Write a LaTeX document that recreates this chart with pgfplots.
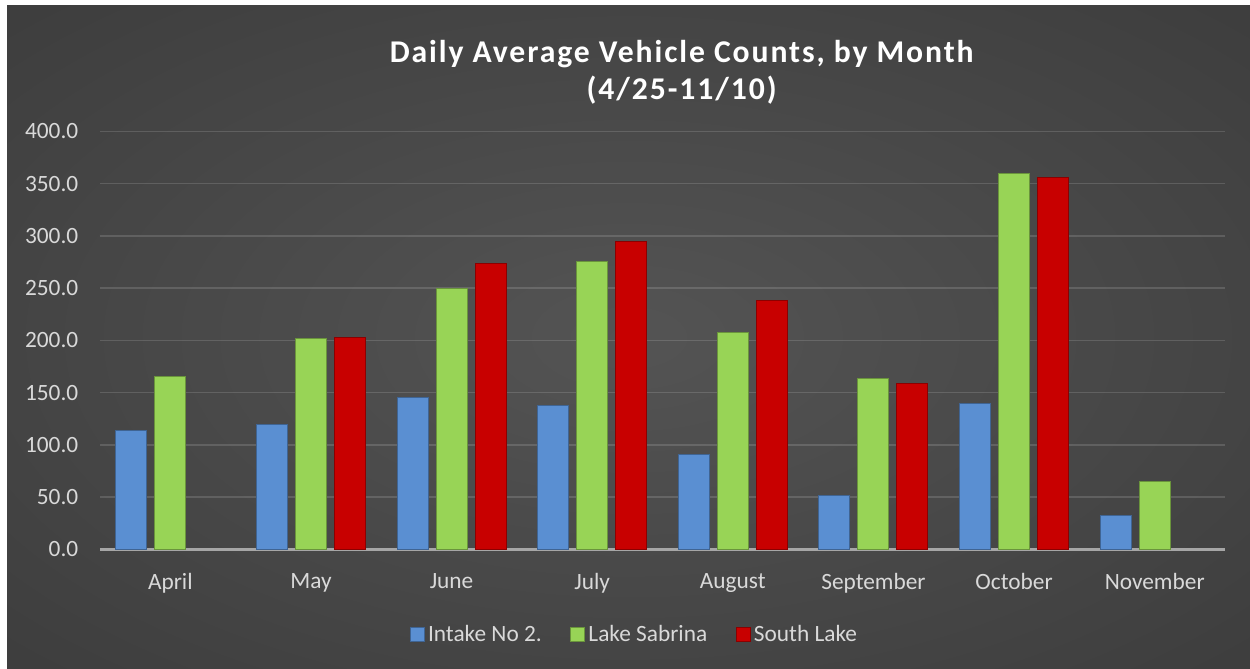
\documentclass[border=0pt]{standalone}
\usepackage{fontspec}
\setmainfont{Carlito}
\newfontfamily\titlefont[LetterSpace=6]{Carlito}
\usepackage{pgfplots}
\pgfplotsset{compat=1.18}
\definecolor{bgin}{HTML}{545454}
\definecolor{bgout}{HTML}{262626}
\definecolor{lbl}{HTML}{D9D9D9}
\definecolor{axisc}{HTML}{A6A6A6}
\definecolor{ablue}{HTML}{5A8FD2}
\definecolor{agreen}{HTML}{98D456}
\definecolor{ared}{HTML}{C80000}
\pgfdeclareradialshading{bgshade}{\pgfpoint{0bp}{0bp}}{color(0bp)=(bgin); color(72bp)=(bgout)}

\begin{document}
\begin{tikzpicture}
\fill[white] (0,0) rectangle (750pt,401.4pt);
\shade[shading=bgshade] (4.2pt,0) rectangle (750pt,397.8pt);
\begin{axis}[
  at={(60pt,71.7pt)}, anchor=south west,
  scale only axis, width=675pt, height=250.8pt,
  xmin=-0.5, xmax=7.5, ymin=0, ymax=400,
  ytick={0,50,...,400},
  xtick={0,...,7},
  xticklabels={April,May,June,July,August,September,October,November},
  ybar=4.8pt, bar width=18.6pt,
  axis x line*=bottom, axis y line*=left,
  y axis line style={draw=none},
  x axis line style={draw=axisc, line width=1.5pt},
  major tick length=0pt,
  ymajorgrids,
  grid style={white, opacity=0.14, line width=0.9pt},
  /pgf/number format/assume math mode=true,
  tick label style={font=\fontsize{14}{16}\selectfont, text=lbl},
  yticklabel style={/pgf/number format/.cd, fixed, fixed zerofill, precision=1, /tikz/.cd, xshift=-9.5pt},
  xticklabel style={yshift=-11pt},
  legend image code/.code={\draw[#1] (0pt,-4.2pt) rectangle (8.4pt,4.2pt);},
  legend style={at={(0.4756,-0.203)}, anchor=center, legend columns=3,
    draw=none, fill=none, text=lbl, font=\fontsize{14}{16}\selectfont,
    /tikz/every even column/.append style={column sep=15pt}},
]
\addplot[fill=ablue, draw=ablue!70!black, line width=0.6pt] coordinates {
  (0,114) (1,120) (2,145) (3,138) (4,91) (5,52) (6,140) (7,33)};
\addlegendentry{Intake No 2.}
\addplot[fill=agreen, draw=agreen!70!black, line width=0.6pt] coordinates {
  (0,166) (1,202) (2,250) (3,276) (4,208) (5,164) (6,360) (7,65)};
\addlegendentry{Lake Sabrina}
\addplot[fill=ared, draw=ared!70!black, line width=0.6pt] coordinates {
  (1,203) (2,274) (3,295) (4,238) (5,159) (6,356)};
\addlegendentry{South Lake}
\end{axis}
\node[text=white, font=\titlefont\fontsize{19}{21}\selectfont\bfseries] at (409pt,369pt) {Daily Average Vehicle Counts, by Month};
\node[text=white, font=\titlefont\fontsize{19}{21}\selectfont\bfseries] at (409pt,347.4pt) {(4/25-11/10)};
\end{tikzpicture}
\end{document}
